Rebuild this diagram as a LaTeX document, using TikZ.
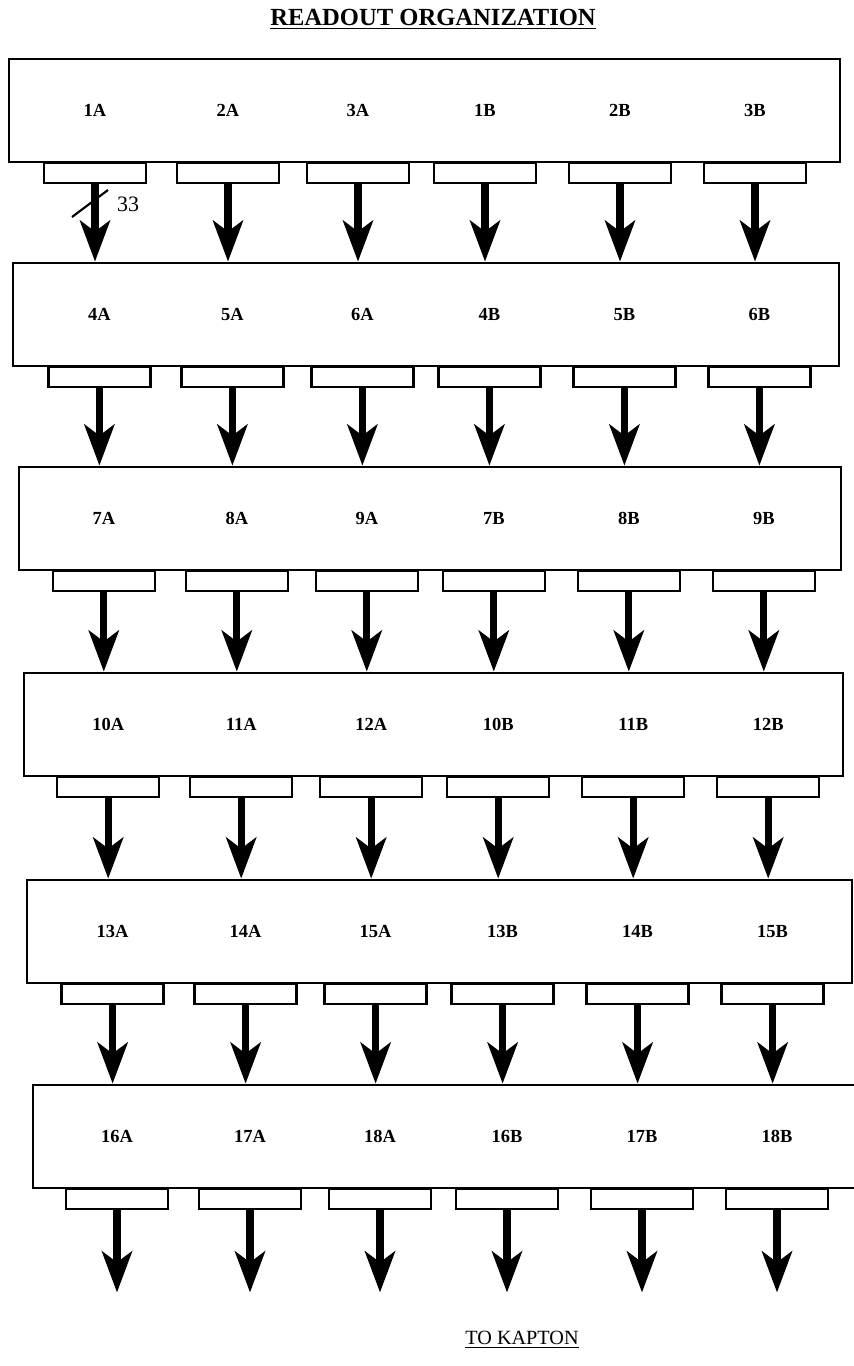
\documentclass[tikz,border=0pt]{standalone}
\usepackage{fontspec}
\setmainfont{Liberation Serif}
\usetikzlibrary{arrows.meta,positioning}

\tikzset{
  rowbox/.style={draw, line width=1.6pt, inner sep=0pt, minimum height=2.06cm},
  tapbox/.style={draw, line width=1.4pt, inner sep=0pt, minimum width=2.04cm, minimum height=0.4cm},
  flow/.style={line width=4pt, -{Stealth[length=0.82cm, width=0.6cm, inset=0.22cm]}},
  chip/.style={font=\fontsize{10.5}{12}\selectfont\bfseries},
}

\begin{document}
\begin{tikzpicture}[x=0.02cm, y=-0.02cm]
	\useasboundingbox (0,0) rectangle (854,1366);
	
	\node[font=\fontsize{14}{16}\selectfont\bfseries] (title) at (433,19) {\underline{READOUT ORGANIZATION}};
	
	% six rows of chips, each with six taps
	\foreach \r/\yt/\xl/\xr in {1/59/9/840, 2/263/13/839, 3/467/19/841, 4/673/24/843, 5/880/27/852, 6/1085/33/864} {
		\pgfmathsetmacro\boxw{(\xr-\xl)*0.02}
		\node[rowbox, minimum width=\boxw cm] (row\r) at ({(\xl+\xr)/2},\yt+51.5) {};
		\foreach \cx [count=\i] in {95,228,358,485,620,755} {
			\pgfmathsetmacro\sx{\cx+4.4*(\r-1)}
			\pgfmathtruncatemacro\num{3*(\r-1)+mod(\i-1,3)+1}
			\node[chip] (lbl\r-\i) at (\sx,\yt+51.5) {\num\ifnum\i<4 A\else B\fi};
			\node[tapbox, anchor=north] (tap\r-\i) at (\sx,\yt+103) {};
		}
	}
	
	% arrows down to the next row
	\foreach \r [evaluate=\r as \nx using int(\r+1)] in {1,...,5}
		\foreach \i in {1,...,6}
			\draw[flow] (tap\r-\i.south) -- (tap\r-\i.south |- row\nx.north);
	
	% last row goes out
	\foreach \i in {1,...,6} {
		\coordinate (out\i) at ([yshift=-1.64cm]tap6-\i.south);
		\draw[flow] (tap6-\i.south) -- (out\i);
	}
	
	% bus width mark
	\draw[line width=1.2pt] (72,217) -- (108,190);
	\node[font=\fontsize{12.5}{14}\selectfont] (buswd) at (128,204) {33};
	
	\node[font=\fontsize{11.5}{14}\selectfont] (kapton) at (522,1340) {\underline{TO KAPTON}};
\end{tikzpicture}
\end{document}
